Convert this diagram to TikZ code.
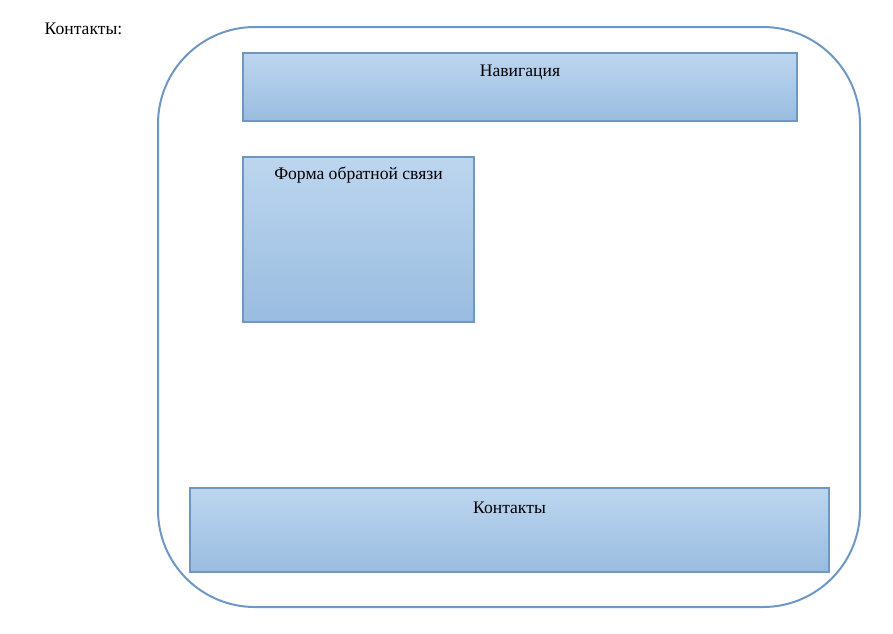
\documentclass[tikz,border=0pt]{standalone}
\usepackage{fontspec}
\setmainfont{Liberation Serif}
\definecolor{edge}{HTML}{6E97C4}
\definecolor{topc}{HTML}{BDD6EF}
\definecolor{botc}{HTML}{99BCE0}
\begin{document}
\begin{tikzpicture}[x=1pt,y=-1pt,
  box/.style={draw=edge, line width=2pt, top color=topc, bottom color=botc, inner sep=0pt},
  lbl/.style={font=\fontsize{17.6}{20}\selectfont, inner sep=0pt, anchor=center}]
\useasboundingbox (0,0) rectangle (893,633);
\node[lbl] (title) at (83.5,28.5) {Контакты:};
\draw[edge, line width=2pt, rounded corners=97pt] (158,27) rectangle (860,607);
\node[box, minimum width=554pt, minimum height=68pt] (nav) at (520,87) {};
\node[lbl] (navt) at (520,72.5) {Навигация};
\node[box, minimum width=231pt, minimum height=165pt] (form) at (358.5,239.5) {};
\node[lbl] (formt) at (358.5,175.5) {Форма обратной связи};
\node[box, minimum width=639pt, minimum height=84pt] (cont) at (509.5,530) {};
\node[lbl] (contt) at (509.5,507.5) {Контакты};
\end{tikzpicture}
\end{document}
